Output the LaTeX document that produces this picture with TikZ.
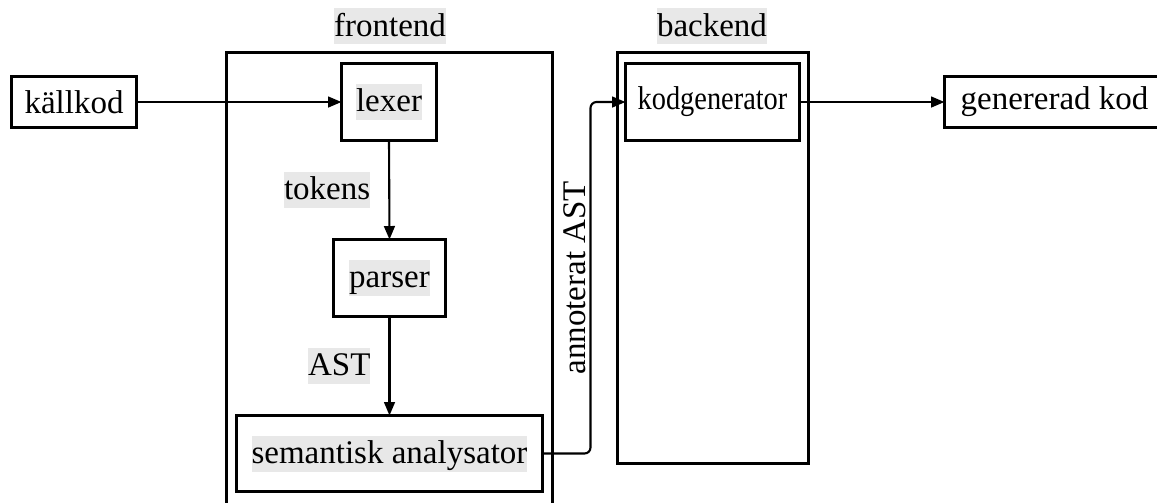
\documentclass[tikz,border=0pt]{standalone}
\usepackage{fontspec}
\setmainfont{Liberation Serif}
\newfontfamily\narrowserif[FakeStretch=0.86]{Liberation Serif}
\usetikzlibrary{arrows.meta}
\definecolor{hlgray}{RGB}{232,232,232}
\newcommand\hlbox[1]{{\setlength{\fboxsep}{0pt}\colorbox{hlgray}{\rule[-2.7pt]{0pt}{12pt}#1}}}
\begin{document}
\begin{tikzpicture}[x=0.33333pt,y=-0.33333pt,
  every node/.style={font=\fontsize{11}{13.6}\selectfont},
  box/.style={draw,line width=1pt,inner sep=0pt,outer sep=0pt},
  lbl/.style={inner sep=0pt},
  conn/.style={line width=0.7pt,-{Triangle[length=4.5pt,width=3.6pt]}}]
\useasboundingbox (0,0) rectangle (1157,502);
\clip (0,0) rectangle (1157,502);
% containers
\node[box,minimum width=326*0.33333pt,minimum height=468*0.33333pt] (front) at (389.5,286) {};
\node[box,minimum width=191*0.33333pt,minimum height=411*0.33333pt] (back) at (713,258) {};
\node[lbl,anchor=south] (frontlbl) at (390,45) {\hlbox{frontend}};
\node[lbl,anchor=south] (backlbl) at (712,45) {\hlbox{backend}};
% boxes
\node[box,minimum width=125*0.33333pt,minimum height=51*0.33333pt] (kall) at (74,102) {källkod};
\node[box,minimum width=95*0.33333pt,minimum height=77*0.33333pt] (lexer) at (389,102) {\hlbox{lexer}};
\node[box,minimum width=112*0.33333pt,minimum height=77*0.33333pt] (parser) at (389.5,278) {\hlbox{parser}};
\node[box,minimum width=306*0.33333pt,minimum height=76*0.33333pt] (sem) at (389.5,453.5) {\hlbox{semantisk analysator}};
\node[box,minimum width=174*0.33333pt,minimum height=77*0.33333pt,font=\fontsize{11}{13.6}\narrowserif] (kod) at (712.5,102) {kodgenerator};
\node[box,minimum width=220*0.33333pt,minimum height=51*0.33333pt] (gen) at (1054.5,102) {genererad kod};
% connectors
\draw[conn] (kall.east) -- (lexer.west);
\draw[conn] (lexer.south) -- node[lbl,midway,left=6pt] (tok) {\hlbox{tokens}} (parser.north);
\draw[conn] (parser.south) -- node[lbl,midway,left=6pt] (ast) {\hlbox{AST}} (sem.north);
\draw[conn,rounded corners=2pt] (sem.east) -- ++(48,0) |- node[pos=0.25,rotate=90,anchor=south,inner sep=1.2pt] (ann) {annoterat AST} (kod.west);
\draw[conn] (kod.east) -- (gen.west);
\end{tikzpicture}
\end{document}
